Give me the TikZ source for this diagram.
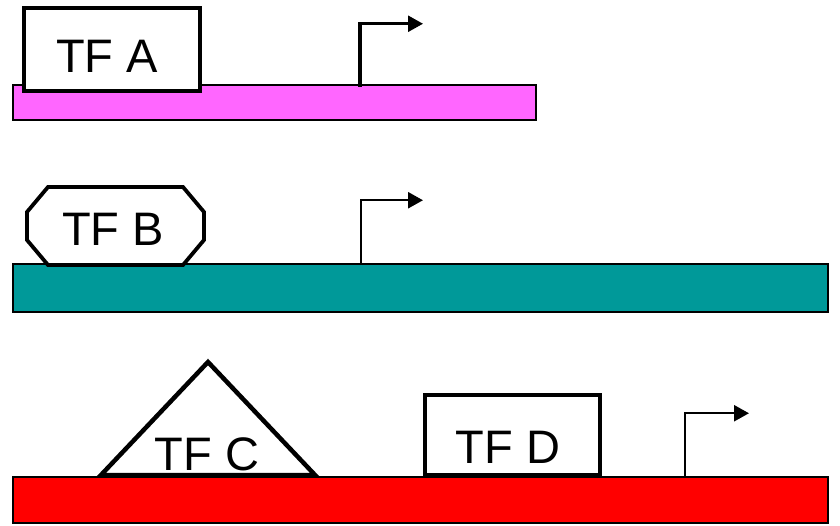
\documentclass[tikz,border=0pt]{standalone}
\usepackage{fontspec}
\setmainfont{Liberation Sans}
\usetikzlibrary{arrows.meta}
\definecolor{pinkbar}{HTML}{FF66FF}
\definecolor{tealbar}{HTML}{009999}
\definecolor{redbar}{HTML}{FF0000}
\tikzset{
  bar/.style={draw=black, line width=1.2bp, inner sep=0pt, outer sep=0pt, rectangle},
  tfbox/.style={draw=black, fill=white, line width=4.5bp, inner sep=0pt, outer sep=0pt, rectangle},
  tfshape/.style={draw=black, fill=white, line join=miter},
  tflabel/.style={anchor=base, inner sep=0pt, outer sep=0pt, font=\fontsize{47bp}{56bp}\selectfont},
  stem/.style={draw=black, line cap=butt},
  pointer/.style={draw=black, line cap=butt, -{Triangle[length=15bp,width=16bp]}}
}
\begin{document}
\begin{tikzpicture}[x=1bp,y=-1bp]
\useasboundingbox (0,0) rectangle (840,526);
% bars
\node[bar, fill=pinkbar, minimum width=523bp, minimum height=35bp] (barA) at (274.5,102.5) {};
\node[bar, fill=tealbar, minimum width=815bp, minimum height=48bp] (barB) at (420.5,288) {};
\node[bar, fill=redbar, minimum width=815bp, minimum height=46bp] (barC) at (420.5,500) {};
% TF A box
\node[tfbox, minimum width=176bp, minimum height=83bp] (boxA) at (112,49.5) {};
\node[tflabel] (labA) at (107,73) {TF A};
% TF B octagon
\draw[tfshape, line width=3.8bp] (48,187) coordinate (oB1) -- (183,187) -- (204,212) -- (204,240) -- (183,265) -- (48,265) -- (27,240) -- (27,212) -- cycle;
\node[tflabel] (labB) at (113,246) {TF B};
% TF C triangle
\draw[tfshape, line width=4.5bp] (208,362) coordinate (tC) -- (315,475) -- (101,475) -- cycle;
\node[tflabel] (labC) at (207,470) {TF C};
% TF D box
\node[tfbox, minimum width=175bp, minimum height=80bp] (boxD) at (512.5,435) {};
\node[tflabel] (labD) at (508,463) {TF D};
% arrows
\coordinate (sA) at (360,87);
\coordinate (kA) at (360,22.5);
\coordinate (kA2) at (360,23.75);
\coordinate (eA) at (423,23.75);
\draw[stem, line width=4bp] (sA) -- (kA);
\draw[pointer, line width=2.5bp] (kA2) -- (eA);
\coordinate (sB) at (361,264);
\coordinate (kB) at (361,199);
\coordinate (kB2) at (361,200.25);
\coordinate (eB) at (423,200.25);
\draw[stem, line width=2.5bp] (sB) -- (kB);
\draw[pointer, line width=2.5bp] (kB2) -- (eB);
\coordinate (sC) at (685,477);
\coordinate (kC) at (685,412);
\coordinate (kC2) at (685,413.25);
\coordinate (eC) at (749,413.25);
\draw[stem, line width=2.3bp] (sC) -- (kC);
\draw[pointer, line width=2.3bp] (kC2) -- (eC);
\end{tikzpicture}
\end{document}
